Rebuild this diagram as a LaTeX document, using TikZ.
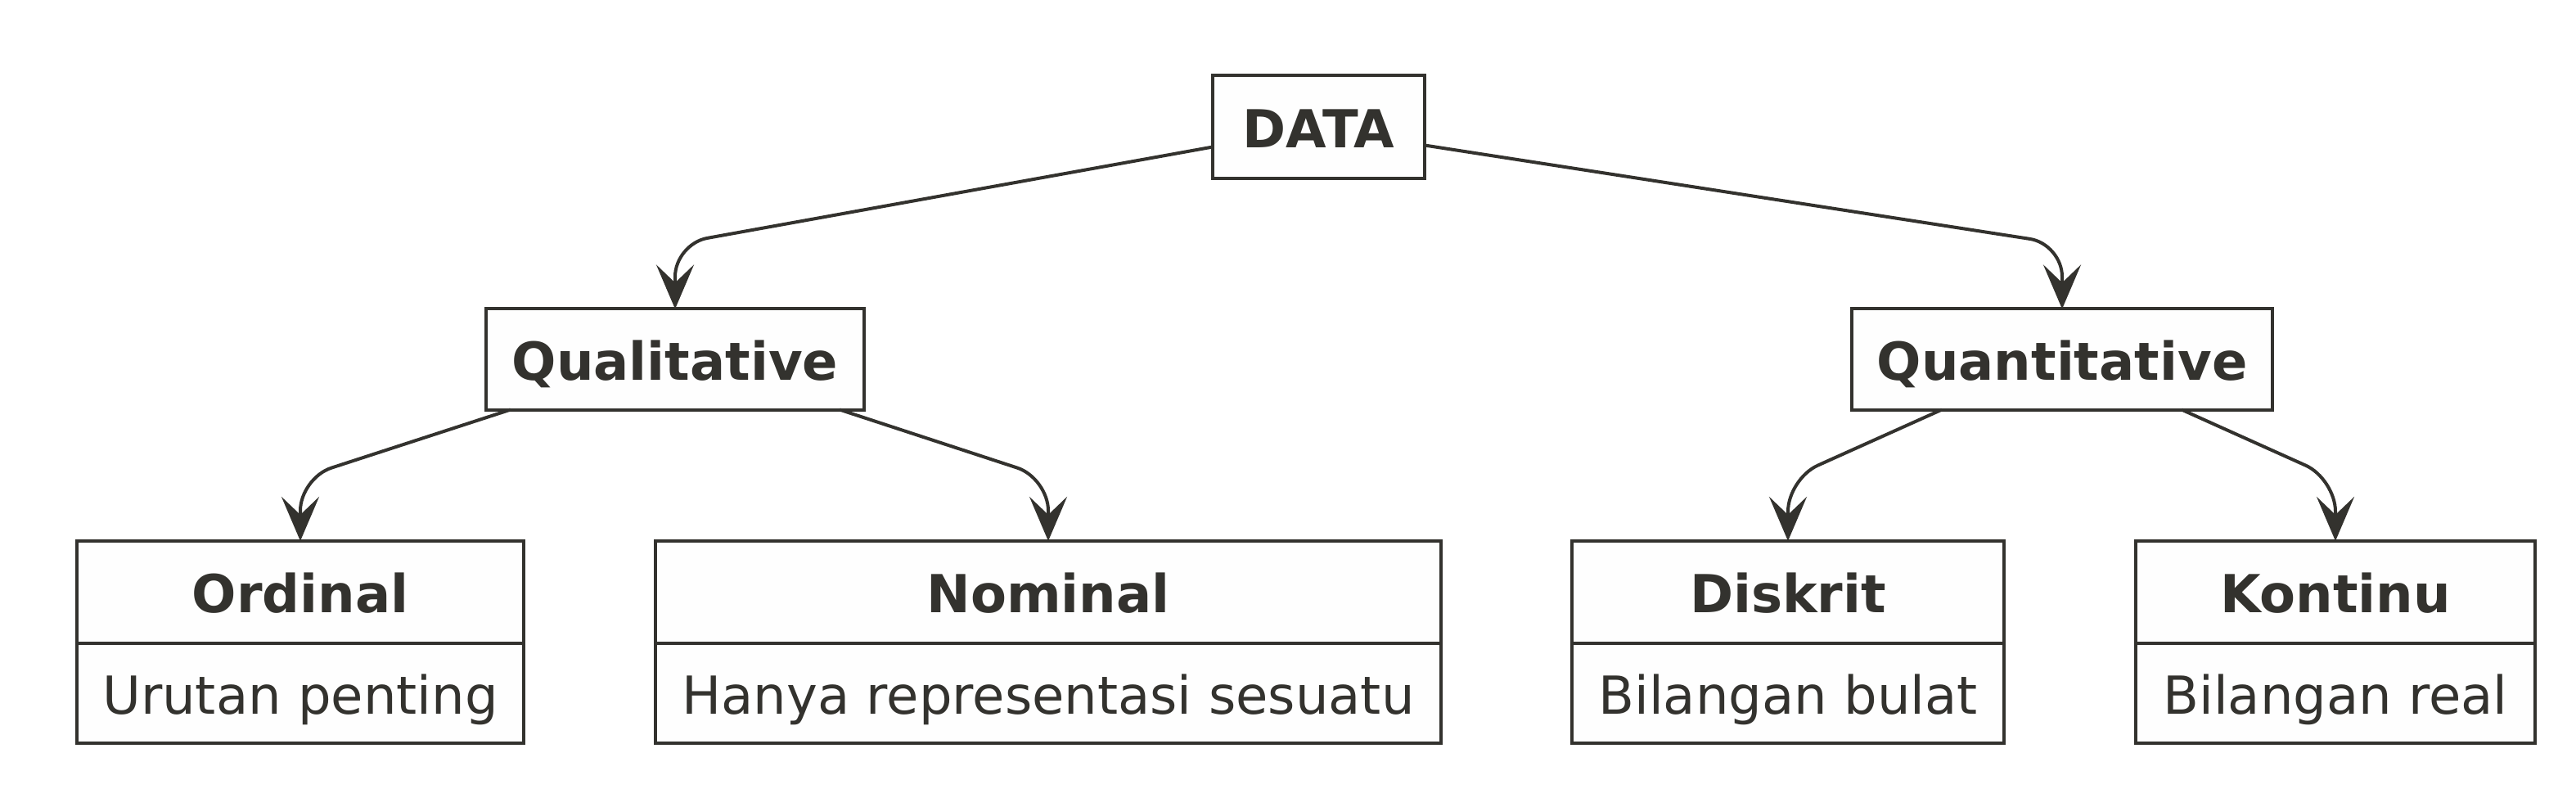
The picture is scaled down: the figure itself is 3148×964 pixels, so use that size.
\documentclass[tikz,border=0pt]{standalone}
\usepackage{fontspec}
\setmainfont{DejaVu Sans}
\usetikzlibrary{arrows.meta,positioning}
\definecolor{ink}{RGB}{51,50,46}
\definecolor{paper}{RGB}{254,254,254}

\begin{document}
\begin{tikzpicture}[x=0.01cm,y=-0.01cm,
    box/.style={draw=ink,fill=paper,line width=0.04cm,inner sep=0pt,outer sep=0pt,
      text=ink,text height=0.5cm,text depth=0pt,font=\fontsize{18.2}{22}\selectfont},
    head/.style={box,font=\fontsize{18.2}{22}\selectfont\bfseries},
    link/.style={draw=ink,line width=0.04cm,rounded corners=0.4cm,
      -{Stealth[length=5.4mm,width=4.6mm,inset=2.2mm]}}]
  \fill[white] (0,0) rectangle (3148,964);
  \useasboundingbox (0,0) rectangle (3148,964);
  \begin{scope}[every node/.style={head}]
    \node[minimum width=2.59cm,minimum height=1.25cm] (data)  at (1611.5,155) {DATA};
    \node[minimum width=4.62cm,minimum height=1.23cm] (qual)  at (825,439)  {Qualitative};
    \node[minimum width=5.14cm,minimum height=1.23cm] (quant) at (2520,439) {Quantitative};
    \node[minimum width=5.46cm,minimum height=1.25cm] (ord)   at (367,723.5)  {Ordinal};
    \node[minimum width=9.60cm,minimum height=1.25cm] (nom)   at (1281,723.5) {Nominal};
    \node[minimum width=5.28cm,minimum height=1.25cm] (disk)  at (2185,723.5) {Diskrit};
    \node[minimum width=4.88cm,minimum height=1.25cm] (kont)  at (2854,723.5) {Kontinu};
  \end{scope}
  \begin{scope}[every node/.style={box,minimum height=1.22cm}]
    \node[minimum width=5.46cm,below=0pt of ord]  (ordtxt)  {Urutan penting};
    \node[minimum width=9.60cm,below=0pt of nom]  (nomtxt)  {Hanya representasi sesuatu};
    \node[minimum width=5.28cm,below=0pt of disk] (disktxt) {Bilangan bulat};
    \node[minimum width=4.88cm,below=0pt of kont] (konttxt) {Bilangan real};
  \end{scope}
  \begin{scope}[every path/.style={link}]
    \draw ([yshift=-0.245cm]data.west) -- (qual.north |- 0,298) -- (qual.north);
    \draw ([yshift=-0.225cm]data.east) -- (quant.north |- 0,298) -- (quant.north);
    \draw ([xshift=-2.01cm]qual.south) -- (ord.north |- 0,584) -- (ord.north);
    \draw ([xshift=2.01cm]qual.south) -- (nom.north |- 0,584) -- (nom.north);
    \draw ([xshift=-1.47cm]quant.south) -- (disk.north |- 0,585) -- (disk.north);
    \draw ([xshift=1.46cm]quant.south) -- (kont.north |- 0,585) -- (kont.north);
  \end{scope}
\end{tikzpicture}
\end{document}
